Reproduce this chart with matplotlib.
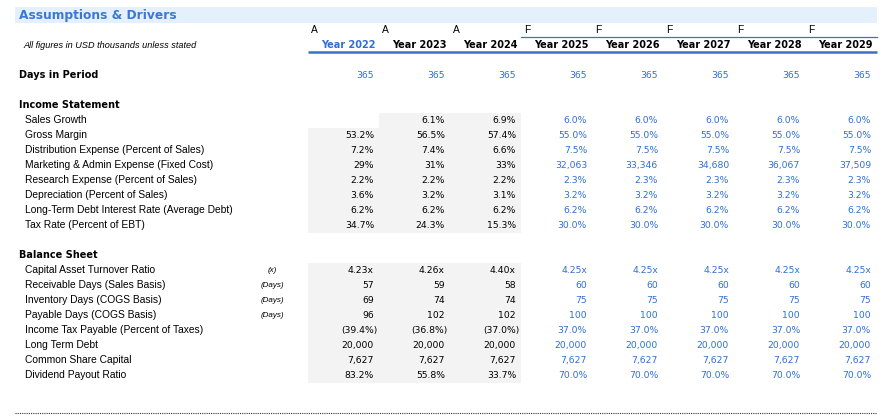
import matplotlib
matplotlib.use("Agg")
import matplotlib.pyplot as plt
from matplotlib.patches import Rectangle

# Data

years = ["Year 2022", "Year 2023", "Year 2024", "Year 2025",
         "Year 2026", "Year 2027", "Year 2028", "Year 2029"]
flags = ["A", "A", "A", "F", "F", "F", "F", "F"]
N_ACTUAL = 3

days_in_period = [365, 365, 365, 365, 365, 365, 365, 365]

income_labels = [
    "Sales Growth",
    "Gross Margin",
    "Distribution Expense (Percent of Sales)",
    "Marketing & Admin Expense (Fixed Cost)",
    "Research Expense (Percent of Sales)",
    "Depreciation (Percent of Sales)",
    "Long-Term Debt Interest Rate (Average Debt)",
    "Tax Rate (Percent of EBT)",
]
sales_growth = [None, 6.1, 6.9, 6.0, 6.0, 6.0, 6.0, 6.0]
gross_margin = [53.2, 56.5, 57.4, 55.0, 55.0, 55.0, 55.0, 55.0]
distribution = [7.2, 7.4, 6.6, 7.5, 7.5, 7.5, 7.5, 7.5]
marketing = [29, 31, 33, 32063, 33346, 34680, 36067, 37509]
research = [2.2, 2.2, 2.2, 2.3, 2.3, 2.3, 2.3, 2.3]
depreciation = [3.6, 3.2, 3.1, 3.2, 3.2, 3.2, 3.2, 3.2]
ltd_rate = [6.2, 6.2, 6.2, 6.2, 6.2, 6.2, 6.2, 6.2]
tax_rate = [34.7, 24.3, 15.3, 30.0, 30.0, 30.0, 30.0, 30.0]

balance_labels = [
    "Capital Asset Turnover Ratio",
    "Receivable Days (Sales Basis)",
    "Inventory Days (COGS Basis)",
    "Payable Days (COGS Basis)",
    "Income Tax Payable (Percent of Taxes)",
    "Long Term Debt",
    "Common Share Capital",
    "Dividend Payout Ratio",
]
balance_units = ["(x)", "(Days)", "(Days)", "(Days)", "", "", "", ""]
turnover = [4.23, 4.26, 4.40, 4.25, 4.25, 4.25, 4.25, 4.25]
receivable_days = [57, 59, 58, 60, 60, 60, 60, 60]
inventory_days = [69, 74, 74, 75, 75, 75, 75, 75]
payable_days = [96, 102, 102, 100, 100, 100, 100, 100]
tax_payable = [-39.4, -36.8, -37.0, 37.0, 37.0, 37.0, 37.0, 37.0]
long_term_debt = [20000, 20000, 20000, 20000, 20000, 20000, 20000, 20000]
share_capital = [7627, 7627, 7627, 7627, 7627, 7627, 7627, 7627]
dividend_payout = [83.2, 55.8, 33.7, 70.0, 70.0, 70.0, 70.0, 70.0]

# Style

BLUE = "#2f6fd6"
TITLE_BLUE = "#3a78d6"
LINE_BLUE = "#3a72c8"
BAND = "#e4f0fc"
GRAY = "#f3f3f3"
LABEL_FONT = "Liberation Sans"
NUM_FONT = "DejaVu Sans"
HEAD_FONT = "DejaVu Sans"

COL_LEFT = 308
COL_W = 71
VAL_RIGHT = 374
ROW_H = 15


def fmt(v, kind):
    if v is None:
        return ""
    if kind == "pct1":
        return f"({abs(v):.1f}%)" if v < 0 else f"{v:.1f}%"
    if kind == "pct0":
        return f"{v:.0f}%"
    if kind == "mult":
        return f"{v:.2f}x"
    if kind == "comma":
        return f"{v:,.0f}"
    return f"{v}"


fig = plt.figure(figsize=(8.89, 4.19), dpi=100)
ax = fig.add_axes([0, 0, 1, 1])
ax.set_xlim(0, 889)
ax.set_ylim(419, 0)
ax.axis("off")

# title band
ax.add_patch(Rectangle((15, 7), 862, 16, color=BAND, lw=0, zorder=0))
ax.text(19, 15.5, "Assumptions & Drivers", fontsize=8.8, fontweight="bold",
        color=TITLE_BLUE, family=HEAD_FONT, va="center", ha="left")

ax.text(23, 45, "All figures in USD thousands unless stated", fontsize=6.6,
        style="italic", family=LABEL_FONT, va="center", ha="left")

# column headers
for i, (yr, fl) in enumerate(zip(years, flags)):
    left = COL_LEFT + COL_W * i
    ax.text(left + 3, 30, fl, fontsize=7.4, family=LABEL_FONT, va="center", ha="left")
    ax.text(VAL_RIGHT + COL_W * i + 1.5, 45, yr, fontsize=7, fontweight="bold",
            family=HEAD_FONT, color=BLUE if i == 0 else "black",
            va="center", ha="right")

ax.plot([COL_LEFT + COL_W * N_ACTUAL, 877], [37.3, 37.3], color=LINE_BLUE, lw=0.9)
ax.plot([COL_LEFT, 877], [51.7, 51.7], color=LINE_BLUE, lw=1.8,
        solid_capstyle="butt")


def value_color(i):
    return "black" if i < N_ACTUAL else BLUE


def draw_row(y, label, values, kinds, unit="", first_blue=False):
    ax.text(25, y, label, fontsize=7.4, family=LABEL_FONT, va="center", ha="left")
    if unit:
        ax.text(272, y, unit, fontsize=5.8, style="italic", family=LABEL_FONT,
                va="center", ha="center")
    for i, v in enumerate(values):
        kind = kinds[i] if isinstance(kinds, list) else kinds
        s = fmt(v, kind)
        xr = VAL_RIGHT + COL_W * i
        if s.startswith("("):
            xr += 3
        ax.text(xr, y, s, fontsize=6.7, family=NUM_FONT,
                color=BLUE if first_blue else value_color(i),
                va="center", ha="right")


# Days in period
ax.text(19, 75, "Days in Period", fontsize=7, fontweight="bold",
        family=HEAD_FONT, va="center", ha="left")
draw_row(75, "", days_in_period, "int", first_blue=True)

# Income statement
ax.text(19, 105, "Income Statement", fontsize=7, fontweight="bold",
        family=HEAD_FONT, va="center", ha="left")
inc_top = 120 - ROW_H / 2
ax.add_patch(Rectangle((COL_LEFT + COL_W, inc_top), COL_W * 2, ROW_H,
                       color=GRAY, lw=0, zorder=0))
ax.add_patch(Rectangle((COL_LEFT, inc_top + ROW_H), COL_W * N_ACTUAL,
                       ROW_H * (len(income_labels) - 1), color=GRAY, lw=0, zorder=0))

income_rows = [
    (sales_growth, "pct1"),
    (gross_margin, "pct1"),
    (distribution, "pct1"),
    (marketing, ["pct0"] * N_ACTUAL + ["comma"] * 5),
    (research, "pct1"),
    (depreciation, "pct1"),
    (ltd_rate, "pct1"),
    (tax_rate, "pct1"),
]
for k, (label, (vals, kinds)) in enumerate(zip(income_labels, income_rows)):
    draw_row(120 + ROW_H * k, label, vals, kinds)

# Balance sheet
ax.text(19, 255, "Balance Sheet", fontsize=7, fontweight="bold",
        family=HEAD_FONT, va="center", ha="left")
bal_top = 270 - ROW_H / 2
ax.add_patch(Rectangle((COL_LEFT, bal_top), COL_W * N_ACTUAL,
                       ROW_H * len(balance_labels), color=GRAY, lw=0, zorder=0))

balance_rows = [
    (turnover, "mult"),
    (receivable_days, "int"),
    (inventory_days, "int"),
    (payable_days, "int"),
    (tax_payable, "pct1"),
    (long_term_debt, "comma"),
    (share_capital, "comma"),
    (dividend_payout, "pct1"),
]
for k, (label, unit, (vals, kinds)) in enumerate(zip(balance_labels, balance_units, balance_rows)):
    draw_row(270 + ROW_H * k, label, vals, kinds, unit=unit)

# dotted footer line
ax.plot([15, 877], [412.7, 412.7], color="#333333", lw=0.8, linestyle=(0, (1, 1)))

fig.savefig("out.png", dpi=100)
